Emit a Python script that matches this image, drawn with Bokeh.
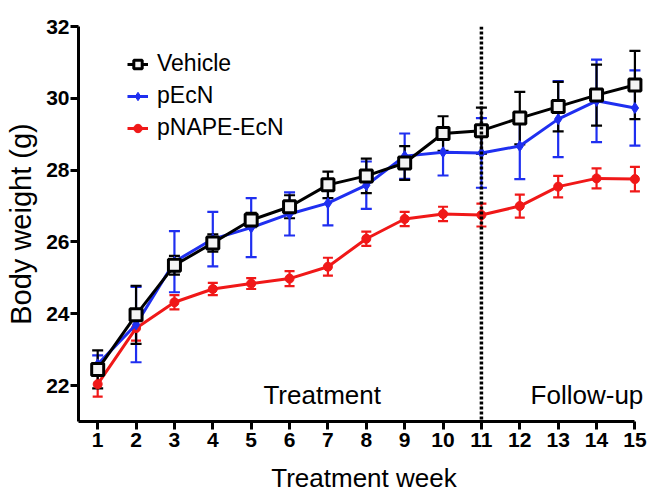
from bokeh.plotting import figure
from bokeh.models import (ColumnDataSource, Whisker, TeeHead, Span, Legend, LegendItem,
                          FixedTicker, Range1d, Label)
from bokeh.embed import file_html
from bokeh.resources import INLINE

weeks = list(range(1, 16))
vehicle = [22.45, 23.97, 25.35, 25.97, 26.61, 26.98, 27.59, 27.84, 28.2, 29.02, 29.1, 29.45, 29.77, 30.09, 30.37]
vehicle_err = [0.53, 0.81, 0.26, 0.24, 0.2, 0.32, 0.37, 0.48, 0.47, 0.48, 0.64, 0.73, 0.69, 0.85, 0.95]
pecn = [22.59, 23.7, 25.45, 26.08, 26.4, 26.78, 27.08, 27.58, 28.39, 28.5, 28.48, 28.67, 29.42, 29.93, 29.73]
pecn_err = [0.25, 1.05, 0.85, 0.76, 0.82, 0.6, 0.62, 0.66, 0.63, 0.65, 0.97, 0.92, 1.06, 1.15, 1.05]
pnape = [22.04, 23.6, 24.32, 24.69, 24.84, 24.98, 25.31, 26.09, 26.64, 26.78, 26.75, 27.0, 27.54, 27.77, 27.75]
pnape_err = [0.35, 0.35, 0.2, 0.17, 0.15, 0.21, 0.25, 0.2, 0.2, 0.2, 0.32, 0.32, 0.3, 0.28, 0.34]
x_ticks = list(range(1, 16))
y_ticks = [22, 24, 26, 28, 30, 32]
divider_week = 11

FONT = "Liberation Sans"
BLACK = "#000000"
BLUE = "#1f2ff0"
RED = "#f01818"

p = figure(width=655, height=495, output_backend="svg", toolbar_location=None,
           x_range=Range1d(0.5, 15.38), y_range=Range1d(21, 32),
           min_border_left=78, min_border_right=6, min_border_top=26, min_border_bottom=74)
p.outline_line_color = None
p.xgrid.visible = False
p.ygrid.visible = False
p.background_fill_color = "white"

for ax in (p.xaxis[0], p.yaxis[0]):
    ax.axis_line_width = 3
    ax.major_tick_line_width = 3
    ax.major_tick_out = 8
    ax.major_tick_in = 0
    ax.minor_tick_line_color = None
    ax.major_label_text_font = FONT
    ax.major_label_text_font_style = "bold"
    ax.major_label_text_font_size = "21px"
    ax.axis_label_text_font = FONT
    ax.axis_label_text_font_style = "normal"
    ax.major_label_text_color = BLACK
    ax.axis_label_text_color = BLACK

p.xaxis.ticker = FixedTicker(ticks=x_ticks)
p.yaxis.ticker = FixedTicker(ticks=y_ticks)
p.xaxis.bounds = (0.5, 15)
p.xaxis.axis_label = "Treatment week"
p.yaxis.axis_label = "Body weight (g)"
p.xaxis.axis_label_text_font_size = "26px"
p.yaxis.axis_label_text_font_size = "29px"
p.xaxis.major_label_standoff = 3
p.yaxis.major_label_standoff = 1
p.xaxis.axis_label_standoff = 13
p.yaxis.axis_label_standoff = 6

p.add_layout(Span(location=divider_week, dimension="height", line_color=BLACK,
                  line_width=3.5, line_dash="3 2"))

def series(vals, errs, color, cap):
    src = ColumnDataSource(dict(x=weeks, y=vals,
                                lo=[v - e for v, e in zip(vals, errs)],
                                hi=[v + e for v, e in zip(vals, errs)]))
    w = Whisker(source=src, base="x", upper="hi", lower="lo", line_color=color, line_width=2.2,
                upper_head=TeeHead(size=cap, line_color=color, line_width=2.2),
                lower_head=TeeHead(size=cap, line_color=color, line_width=2.2))
    p.add_layout(w)
    ln = p.line("x", "y", source=src, line_color=color, line_width=3)
    return src, ln

src_r, ln_r = series(pnape, pnape_err, RED, 10)
mk_r = p.scatter("x", "y", source=src_r, marker="circle", size=9, fill_color=RED, line_color=RED)
src_b, ln_b = series(pecn, pecn_err, BLUE, 11)
mk_b = p.scatter("x", "y", source=src_b, marker="diamond", size=11, fill_color=BLUE, line_color=BLUE)
src_k, ln_k = series(vehicle, vehicle_err, BLACK, 11)
mk_k = p.scatter("x", "y", source=src_k, marker="square", size=12, fill_color="#f4f4f4",
                 line_color=BLACK, line_width=3)

legend = Legend(items=[
    LegendItem(label="Vehicle", renderers=[ln_k, mk_k]),
    LegendItem(label="pEcN", renderers=[ln_b, mk_b]),
    LegendItem(label="pNAPE-EcN", renderers=[ln_r, mk_r]),
], location=(49, 280), padding=0, margin=0, border_line_color=None,
    background_fill_alpha=0, glyph_width=21, glyph_height=26, label_height=26,
    spacing=5, label_standoff=9, label_text_font=FONT, label_text_font_size="23px",
    label_text_color=BLACK)
p.add_layout(legend, "center")

p.add_layout(Label(x=6.85, y=21.75, text="Treatment", text_font=FONT, text_font_size="26px",
                   text_align="center", text_baseline="alphabetic", text_color=BLACK))
p.add_layout(Label(x=13.75, y=21.75, text="Follow-up", text_font=FONT, text_font_size="26px",
                   text_align="center", text_baseline="alphabetic", text_color=BLACK))

open("out.html", "w").write(file_html(p, INLINE))
